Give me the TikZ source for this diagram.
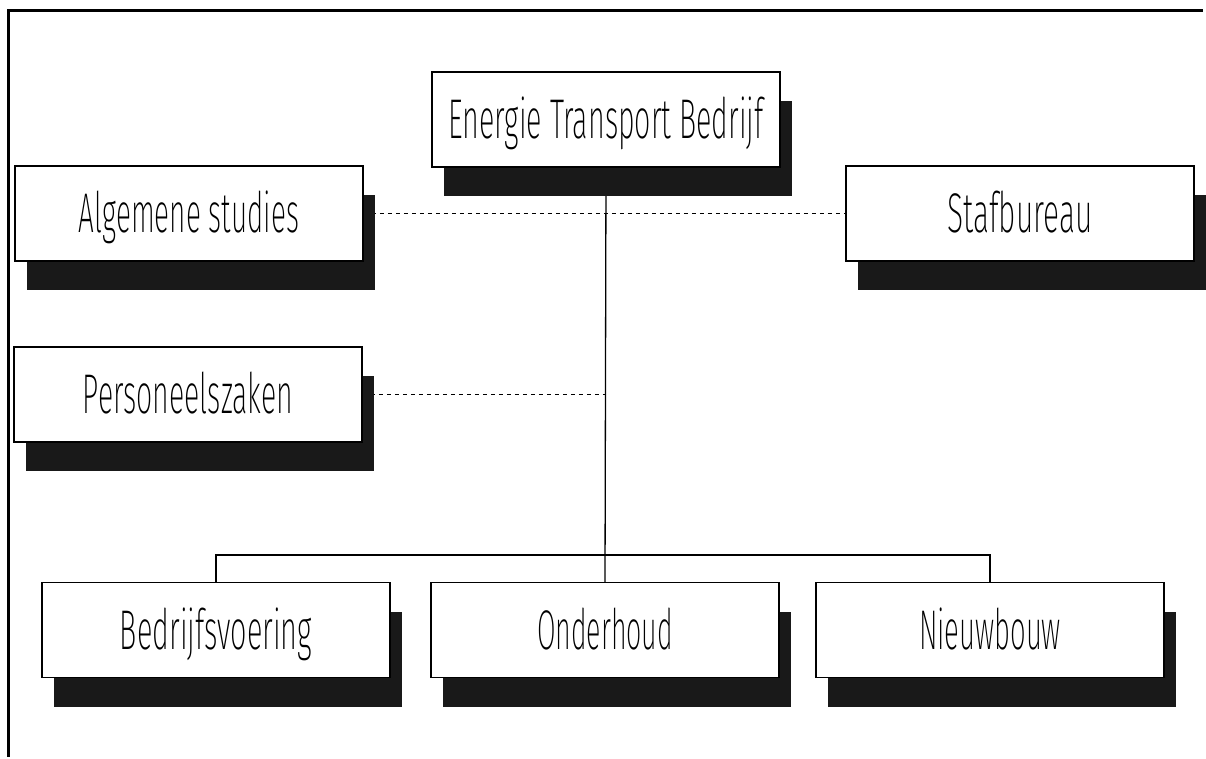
\documentclass[tikz,border=0pt]{standalone}
\usepackage{fontspec}
\newfontfamily\lblfont{Fira Sans ExtraLight}
\usetikzlibrary{shadows,backgrounds}

\tikzset{
  orgbox/.style={draw, line width=1.5pt, fill=white, inner sep=0pt,
    minimum width=348pt, minimum height=95pt,
    text height=38pt, text depth=0pt,
    font=\lblfont\fontsize{56}{60}\selectfont,
    general shadow={fill=black!90, shadow xshift=12pt, shadow yshift=-29pt}},
  link/.style={line width=1.3pt},
  staff/.style={line width=1.3pt, dash pattern=on 4pt off 4pt}
}
% narrow the label to a given width, keeping its height
\newcommand\lbl[2]{\resizebox{#1pt}{\height}{#2}}

\begin{document}
\begin{tikzpicture}[x=1pt,y=-1pt]
  \useasboundingbox (0,0) rectangle (1206,759);

  % outer frame: left and top edges
  \fill (6.5,9.5) rectangle (9.5,757);
  \fill (6.5,9.5) rectangle (1203,12.5);

  % departments
  \node[orgbox] (etb)   at (606,119.5) {\lbl{315}{Energie Transport Bedrijf}};
  \node[orgbox] (alg)   at (189,213.5) {\lbl{220}{Algemene studies}};
  \node[orgbox] (staf)  at (1020,213.5) {\lbl{145}{Stafbureau}};
  \node[orgbox] (pers)  at (188,394.5) {\lbl{210}{Personeelszaken}};
  \node[orgbox] (bedr)  at (216,630) {\lbl{192}{Bedrijfsvoering}};
  \node[orgbox] (ond)   at (605,630) {\lbl{136}{Onderhoud}};
  \node[orgbox] (nieuw) at (990,630) {\lbl{142}{Nieuwbouw}};

  \coordinate (bus) at (605,555);

  \begin{scope}[on background layer]
    \draw[link] (etb.south) -- (ond.north);
    \draw[link] (bedr.north) |- (bus) -| (nieuw.north);
    \draw[staff] (alg.east) -- (staf.west);
    \draw[staff] (pers.east) -- (pers.east -| etb.south);
  \end{scope}
\end{tikzpicture}
\end{document}
